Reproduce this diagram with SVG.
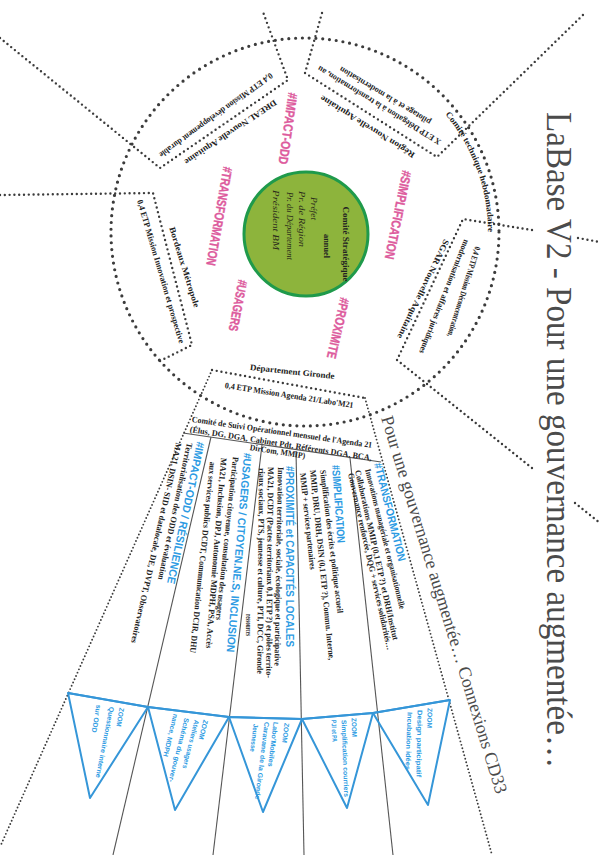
<svg xmlns="http://www.w3.org/2000/svg" width="608" height="855" viewBox="0 0 608 855">
<style>
.d{fill:none;stroke:#3c3c3c;stroke-linecap:round;stroke-width:2.4;stroke-dasharray:0 4.8}
.dc{fill:none;stroke:#3c3c3c;stroke-linecap:round;stroke-width:3.2;stroke-dasharray:0 6.8}
.df{fill:none;stroke:#3c3c3c;stroke-linecap:round;stroke-width:1.9;stroke-dasharray:0 3.6}
.s{fill:none;stroke:#555;stroke-width:1.1}
.pn{fill:none;stroke:#3596d8;stroke-width:2;stroke-linejoin:round}
text{dominant-baseline:central}
.t{font-family:"Liberation Serif",serif;font-weight:bold;fill:#222;font-size:8.5px}
.pk{font-family:"Liberation Sans Narrow","Liberation Sans",sans-serif;font-weight:bold;fill:#dd5b9d;stroke:#dd5b9d;stroke-width:0.35;font-size:13px}
.bl{font-family:"Liberation Sans Narrow","Liberation Sans",sans-serif;font-weight:bold;fill:#2d9be3;font-size:11px}
.pt{font-family:"Liberation Sans",sans-serif;font-weight:bold;fill:#2d9be3;font-size:6.8px}
.g{font-family:"Liberation Serif",serif;font-style:italic;fill:#2a2a1a;font-size:8px}
.ttl{font-family:"Liberation Serif",serif;fill:#4b4b4b;dominant-baseline:alphabetic}
</style>
<defs>
<path id="arcT" d="M 447.5 112.4 A 186 186 0 0 1 490.9 238.5"/>
</defs>
<rect width="608" height="855" fill="#fff"/>

<g id="connectors">
<circle class="dc" cx="305" cy="232" r="194"/>
<path class="d" d="M0 38 L160 168 L288 80 L263 12"/>
<path class="d" d="M322 13 L305 73 L437 157 L585 13"/>
<path class="d" d="M532 230 L463 219 L397 360 L532 468"/>
<path class="d" d="M578 238 L600 242"/>
<path class="d" d="M575 503 L600 523"/>
<path class="d" d="M0 195 L153 193 L192 345 L158 362"/>
<path class="d" d="M212 370 L365 398"/>
<path class="df" d="M212 370 L0 847"/>
<path class="df" d="M365 398 L492 855"/>
<path class="s" d="M183 433 L381 462"/>
<path class="s" d="M211 437 L113 855"/>
<path class="s" d="M262 445 L213 855"/>
<path class="s" d="M296 451 L304 855"/>
<path class="s" d="M350 458 L393 855"/>
</g>

<g id="title">
<text class="ttl" transform="translate(547,112) rotate(90)" font-size="36" textLength="656" lengthAdjust="spacingAndGlyphs">LaBase V2 - Pour une gouvernance augmentée…</text>
<text class="ttl" transform="translate(381,418) rotate(73)" font-size="18" textLength="394" lengthAdjust="spacingAndGlyphs">Pour une gouvernance augmentée… Connexions CD33</text>
</g>

<g id="comite-strategique">
<circle cx="306" cy="234" r="62" fill="#8db43c" stroke="#1f9a4b" stroke-width="3"/>
<text class="t" transform="translate(346,244) rotate(90)" text-anchor="middle" font-size="9" textLength="75" lengthAdjust="spacingAndGlyphs">Comité Stratégique</text>
<text class="t" transform="translate(327,246) rotate(90)" text-anchor="middle" font-size="9" textLength="24" lengthAdjust="spacingAndGlyphs">annuel</text>
<text class="g" transform="translate(313,197) rotate(90)" textLength="23" lengthAdjust="spacingAndGlyphs">Préfet</text>
<text class="g" transform="translate(301,191) rotate(90)" textLength="56" lengthAdjust="spacingAndGlyphs">Pr. de Région</text>
<text class="g" transform="translate(289,192) rotate(90)" textLength="68" lengthAdjust="spacingAndGlyphs">Pr. du Département</text>
<text class="g" transform="translate(275,190) rotate(90)" textLength="60" lengthAdjust="spacingAndGlyphs">Président BM</text>
</g>

<g id="hashtags">
<text class="pk" transform="translate(293,93) rotate(98)" textLength="72" lengthAdjust="spacingAndGlyphs">#IMPACT-ODD</text>
<text class="pk" transform="translate(228,167) rotate(100)" textLength="100" lengthAdjust="spacingAndGlyphs">#TRANSFORMATION</text>
<text class="pk" transform="translate(243,280) rotate(101)" textLength="52" lengthAdjust="spacingAndGlyphs">#USAGERS</text>
<text class="pk" transform="translate(345,298) rotate(103)" textLength="62" lengthAdjust="spacingAndGlyphs">#PROXIMITE</text>
<text class="pk" transform="translate(407,171) rotate(101.5)" textLength="90" lengthAdjust="spacingAndGlyphs">#SIMPLIFICATION</text>
</g>

<g id="dreal">
<text class="t" transform="translate(272,75) rotate(144)" textLength="138" lengthAdjust="spacingAndGlyphs">0,4 ETP Mission développement durable</text>
<text class="t" transform="translate(276,102) rotate(146)" font-size="9.5" textLength="109" lengthAdjust="spacingAndGlyphs">DREAL Nouvelle Aquitaine</text>
</g>

<g id="region">
<text class="t" transform="translate(440,143) rotate(211.5)" textLength="143" lengthAdjust="spacingAndGlyphs">X ETP Délégation à la transformation, au</text>
<text class="t" transform="translate(430,123) rotate(211)" textLength="105" lengthAdjust="spacingAndGlyphs">pilotage et à la modernisation</text>
<text class="t" transform="translate(414,156) rotate(212)" font-size="9.5" textLength="110" lengthAdjust="spacingAndGlyphs">Région Nouvelle Aquitaine</text>
</g>

<g id="comite-technique">
<text class="t" font-size="9"><textPath href="#arcT" textLength="130" lengthAdjust="spacingAndGlyphs">Comité technique hebdomadaire</textPath></text>
</g>

<g id="sgar">
<text class="t" transform="translate(478,247) rotate(107.3)" textLength="94" lengthAdjust="spacingAndGlyphs">0,4 ETP Mission Déconcentration,</text>
<text class="t" transform="translate(467,240) rotate(111.7)" textLength="122" lengthAdjust="spacingAndGlyphs">modernisation et affaires juridiques</text>
<text class="t" transform="translate(447,240) rotate(115.6)" font-size="9.5" textLength="109" lengthAdjust="spacingAndGlyphs">SGAR Nouvelle Aquitaine</text>
</g>

<g id="departement">
<text class="t" transform="translate(250,367) rotate(6)" font-size="10" textLength="85" lengthAdjust="spacingAndGlyphs">Département Gironde</text>
<text class="t" transform="translate(225,385) rotate(8.9)" textLength="130" lengthAdjust="spacingAndGlyphs">0,4 ETP Mission Agenda 21/Labo'M21</text>
</g>

<g id="bordeaux">
<text class="t" transform="translate(140,200) rotate(73.6)" textLength="149" lengthAdjust="spacingAndGlyphs">0,4 ETP Mission Innovation et prospective</text>
<text class="t" transform="translate(172,227) rotate(72.6)" font-size="9.5" textLength="84" lengthAdjust="spacingAndGlyphs">Bordeaux Métropole</text>
</g>

<g id="comite-suivi">
<text class="t" transform="translate(192,419) rotate(8.2)" font-size="9" textLength="182" lengthAdjust="spacingAndGlyphs">Comité de Suivi Opérationnel mensuel de l'Agenda 21</text>
<text class="t" transform="translate(190,429) rotate(9)" font-size="9" textLength="184" lengthAdjust="spacingAndGlyphs">(Élus, DG, DGA, Cabinet Pdt, Référents DGA, BCA,</text>
<text class="t" transform="translate(250,447) rotate(9)" font-size="9" textLength="56" lengthAdjust="spacingAndGlyphs">DirCom, MMIP)</text>
</g>

<g id="col-impact">
<text class="bl" transform="translate(201,442) rotate(102)" textLength="145" lengthAdjust="spacingAndGlyphs">#IMPACT-ODD / RÉSILIENCE</text>
<text class="t" transform="translate(190,443) rotate(102)" textLength="140" lengthAdjust="spacingAndGlyphs">Territorialisation des ODD et évaluation</text>
<text class="t" transform="translate(179,443) rotate(102.7)" textLength="205" lengthAdjust="spacingAndGlyphs">MA21, DSIN- SID et datalocale, DE, DVPT, Observatoires</text>
</g>

<g id="col-usagers">
<text class="bl" transform="translate(248,453) rotate(95)" textLength="200" lengthAdjust="spacingAndGlyphs">#USAGERS / CITOYEN.NE.S, INCLUSION</text>
<text class="t" transform="translate(236,457) rotate(96)" textLength="164" lengthAdjust="spacingAndGlyphs">Participation citoyenne, consultation des usagers</text>
<text class="t" transform="translate(224,458) rotate(94.5)" textLength="191" lengthAdjust="spacingAndGlyphs">MA21, Inclusion, DPJ, Autonomie MDPH, PSA, Accès</text>
<text class="t" transform="translate(213,462) rotate(96)" textLength="192" lengthAdjust="spacingAndGlyphs">aux services publics DCDT, Communication DCIR, DHU</text>
</g>

<g id="col-proximite">
<text class="bl" transform="translate(290,466) rotate(90)" textLength="181" lengthAdjust="spacingAndGlyphs">#PROXIMITÉ et CAPACITÉS LOCALES</text>
<text class="t" transform="translate(281,467) rotate(91)" textLength="199" lengthAdjust="spacingAndGlyphs">Innovation territoriale, sociale, écologique et participative</text>
<text class="t" transform="translate(271,467) rotate(90.5)" textLength="211" lengthAdjust="spacingAndGlyphs">MA21, DCDT (Pactes territoriaux 0,1 ETP ?) et pôles territo-</text>
<text class="t" transform="translate(262,468) rotate(90.5)" textLength="206" lengthAdjust="spacingAndGlyphs">riaux sociaux, PTS, jeunesse et culture, PTI, DCC, Gironde</text>
<text class="t" transform="translate(249,614) rotate(90)" textLength="22" lengthAdjust="spacingAndGlyphs">ressources</text>
</g>

<g id="col-simplification">
<text class="bl" transform="translate(336,465) rotate(86)" textLength="78" lengthAdjust="spacingAndGlyphs">#SIMPLIFICATION</text>
<text class="t" transform="translate(323,470) rotate(83)" textLength="144" lengthAdjust="spacingAndGlyphs">Simplification des écrits et politique accueil</text>
<text class="t" transform="translate(313,470) rotate(84.3)" textLength="191" lengthAdjust="spacingAndGlyphs">MMIP, DRU, DRH, DSIN (0,1 ETP ?), Commu. Interne,</text>
<text class="t" transform="translate(303,473) rotate(84)" textLength="97" lengthAdjust="spacingAndGlyphs">MMIP + services partenaires</text>
</g>

<g id="col-transformation">
<text class="bl" transform="translate(378,463) rotate(76)" textLength="101" lengthAdjust="spacingAndGlyphs">#TRANSFORMATION</text>
<text class="t" transform="translate(368,469) rotate(76)" textLength="144" lengthAdjust="spacingAndGlyphs">Innovations managériale et organisationnelle</text>
<text class="t" transform="translate(358,470) rotate(77.4)" textLength="174" lengthAdjust="spacingAndGlyphs">Collaborations MMIP (0,1 ETP ?) et DRH/Institut</text>
<text class="t" transform="translate(351,473) rotate(77.5)" textLength="181" lengthAdjust="spacingAndGlyphs">Gouvernance renforcée, DQG + services solidarités…</text>
</g>

<g id="pennants">
<polyline class="pn" points="68,693 148,707 229,717 302,719 373,713 450,700"/>
<polygon class="pn" points="68,693 148,707 90,798"/>
<polygon class="pn" points="148,707 229,717 175,810"/>
<polygon class="pn" points="229,717 302,719 263,812"/>
<polygon class="pn" points="302,719 373,713 347,808"/>
<polygon class="pn" points="373,713 450,700 428,805"/>
</g>

<g id="zoom-odd">
<text class="pt" transform="translate(122,708) rotate(100)" textLength="19" lengthAdjust="spacingAndGlyphs">ZOOM</text>
<text class="pt" transform="translate(112,707) rotate(101)" textLength="72" lengthAdjust="spacingAndGlyphs">Questionnaire interne</text>
<text class="pt" transform="translate(99,705) rotate(100)" textLength="28" lengthAdjust="spacingAndGlyphs">sur ODD</text>
</g>
<g id="zoom-usagers">
<text class="pt" transform="translate(206,720) rotate(104)" textLength="20" lengthAdjust="spacingAndGlyphs">ZOOM</text>
<text class="pt" transform="translate(197,720) rotate(104)" textLength="50" lengthAdjust="spacingAndGlyphs">Ateliers usagers</text>
<text class="pt" transform="translate(187,718) rotate(104)" textLength="66" lengthAdjust="spacingAndGlyphs">Schéma du gouver-</text>
<text class="pt" transform="translate(176,714) rotate(104)" textLength="44" lengthAdjust="spacingAndGlyphs">nance, MDPH</text>
</g>
<g id="zoom-labo">
<text class="pt" transform="translate(287,723) rotate(97)" textLength="20" lengthAdjust="spacingAndGlyphs">ZOOM</text>
<text class="pt" transform="translate(276,722) rotate(97)" textLength="45" lengthAdjust="spacingAndGlyphs">Labo'Mobiles</text>
<text class="pt" transform="translate(267,722) rotate(97)" textLength="78" lengthAdjust="spacingAndGlyphs">Caravane de la Gironde</text>
<text class="pt" transform="translate(256,724) rotate(97)" textLength="28" lengthAdjust="spacingAndGlyphs">Jeunesse</text>
</g>
<g id="zoom-simplification">
<text class="pt" transform="translate(354,718) rotate(88)" textLength="19" lengthAdjust="spacingAndGlyphs">ZOOM</text>
<text class="pt" transform="translate(344,720) rotate(88)" textLength="77" lengthAdjust="spacingAndGlyphs">Simplification courriers</text>
<text class="pt" transform="translate(334,720) rotate(88)" textLength="22" lengthAdjust="spacingAndGlyphs">PJI et PA</text>
</g>
<g id="zoom-design">
<text class="pt" transform="translate(430,708) rotate(91)" textLength="20" lengthAdjust="spacingAndGlyphs">ZOOM</text>
<text class="pt" transform="translate(420,710) rotate(91)" textLength="67" lengthAdjust="spacingAndGlyphs">Design participatif</text>
<text class="pt" transform="translate(410,712) rotate(92)" textLength="58" lengthAdjust="spacingAndGlyphs">Incubation idées</text>
</g>
</svg>
